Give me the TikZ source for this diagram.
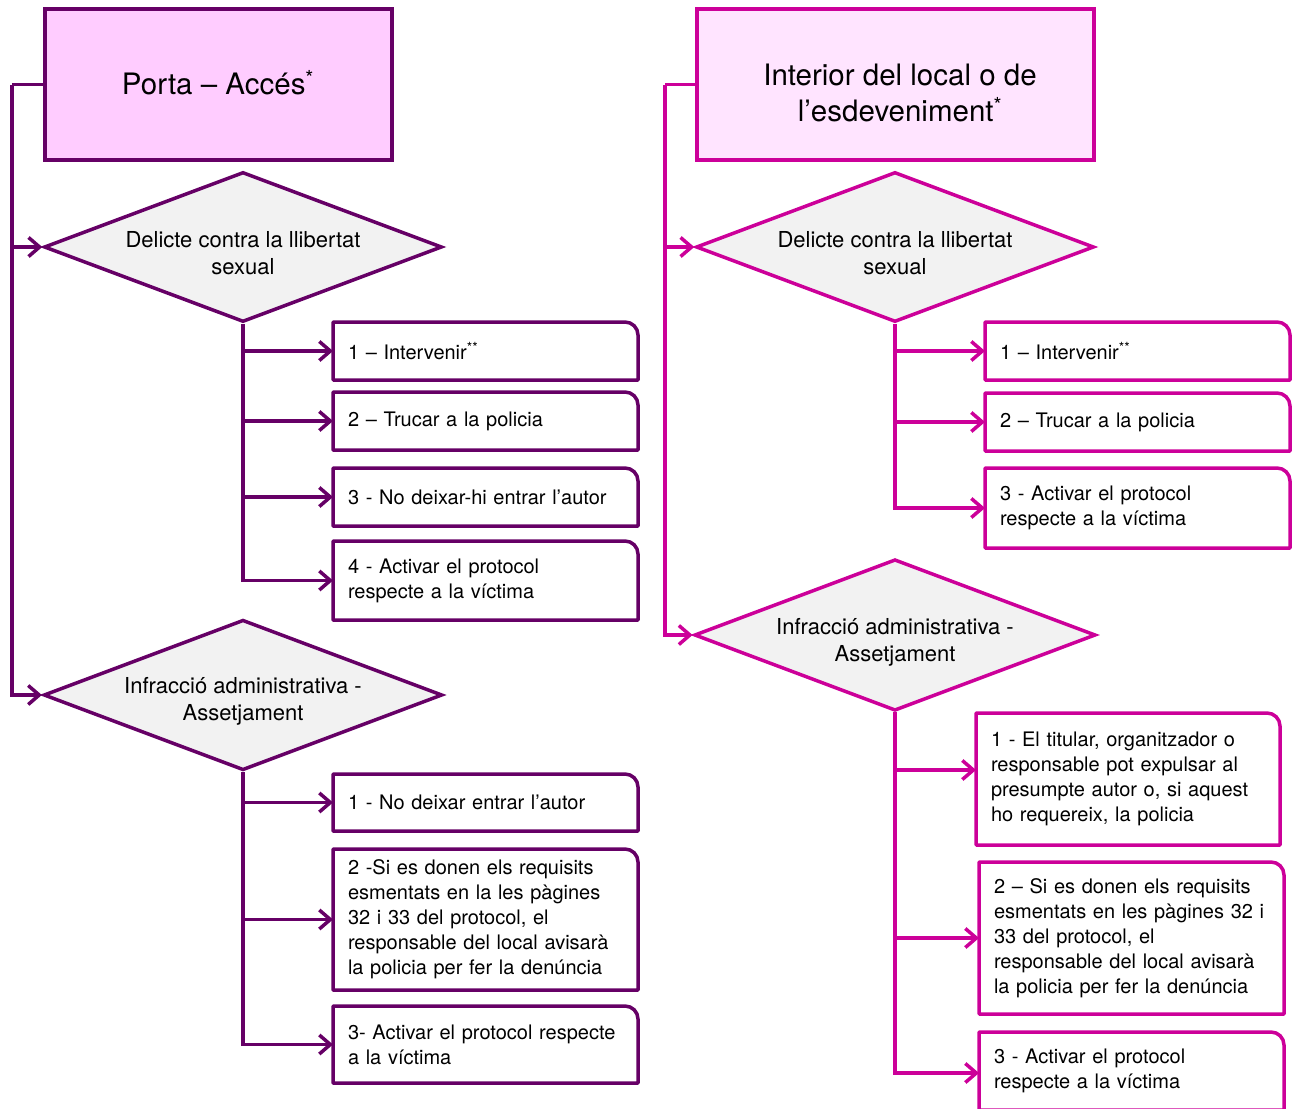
\documentclass[tikz,border=0pt]{standalone}
\usepackage{fontspec}
\setmainfont{TeX Gyre Heros}
\usetikzlibrary{shapes.geometric,arrows.meta}

\definecolor{plum}{HTML}{660066}
\definecolor{magen}{HTML}{CC0099}
\definecolor{pinkL}{HTML}{FFCCFF}
\definecolor{pinkR}{HTML}{FFE4FF}
\definecolor{decgray}{HTML}{F2F2F2}

\newcommand{\stepframe}[2]{%
  \draw[#2, line width=3.5pt, line join=round]
    (#1.south west) -- (#1.north west) -- ([xshift=-13pt]#1.north east)
    arc[start angle=90, end angle=0, radius=13pt] -- (#1.south east) -- cycle;}

\begin{document}
\begin{tikzpicture}[x=1pt, y=1pt,
  hdr/.style={draw=#1, line width=3.5pt, anchor=north west, inner sep=0pt,
    outer sep=0pt, minimum height=151pt},
  hdrtext/.style={align=center, font=\fontsize{29.5}{36}\selectfont},
  dec/.style={diamond, aspect=2.65, draw=#1, fill=decgray, line width=3.5pt,
    minimum width=398pt, minimum height=150pt, inner sep=0pt,
    align=center, font=\fontsize{22}{27}\selectfont},
  stepbox/.style={anchor=north west, inner xsep=15pt, inner ysep=0pt,
    text width=275pt, align=left, outer sep=0pt,
    font=\fontsize{20}{25}\selectfont},
  flow/.style={draw=#1, line width=3.5pt},
  arr/.style={draw=#1, line width=3.5pt, -{Straight Barb[length=11pt, width=19pt]}}]
\useasboundingbox (0,0) rectangle (1292,-1108);

% left column: door / access
\node[hdr=plum, fill=pinkL, minimum width=347pt] (hdrL) at (45,-9) {};
\node[hdrtext] (hdrLt) at (218,-83) {Porta -- Accés\textsuperscript{*}};
\node[dec=plum] (dL1) at (243,-247) {\rule{0pt}{29pt}Delicte contra la llibertat\\sexual};
\node[dec=plum] (dL2) at (243,-695) {\rule{0pt}{29pt}Infracció administrativa -\\Assetjament};
\node[stepbox, minimum height=58pt] (a1) at (333,-322) {1 -- Intervenir\textsuperscript{**}};
\node[stepbox, minimum height=58pt] (a2) at (333,-392) {2 -- Trucar a la policia};
\node[stepbox, minimum height=58pt] (a3) at (333,-468) {3 - No deixar-hi entrar l’autor};
\node[stepbox, minimum height=79pt] (a4) at (333,-541) {4 - Activar el protocol\\respecte a la víctima};
\node[stepbox, minimum height=57pt] (b1) at (333,-774) {1 - No deixar entrar l’autor};
\node[stepbox, minimum height=141pt] (b2) at (333,-849) {2 -Si es donen els requisits\\esmentats en la les pàgines\\32 i 33 del protocol, el\\responsable del local avisarà\\la policia per fer la denúncia};
\node[stepbox, minimum height=77pt] (b3) at (333,-1006) {3- Activar el protocol respecte\\a la víctima};
\stepframe{a1}{plum}
\stepframe{a2}{plum}
\stepframe{a3}{plum}
\stepframe{a4}{plum}
\stepframe{b1}{plum}
\stepframe{b2}{plum}
\stepframe{b3}{plum}

\coordinate (jL) at (12,-84.5);
\draw[flow=plum] (hdrL.west) -- (jL);
\draw[arr=plum] (jL) |- (dL2.west);
\draw[arr=plum] (jL) |- (dL1.west);
\draw[arr=plum] (dL1.south) |- (a4.west);
\draw[arr=plum] (dL1.south |- a1.west) -- (a1.west);
\draw[arr=plum] (dL1.south |- a2.west) -- (a2.west);
\draw[arr=plum] (dL1.south |- a3.west) -- (a3.west);
\draw[arr=plum] (dL2.south) |- (b3.west);
\draw[arr=plum] (dL2.south |- b1.west) -- (b1.west);
\draw[arr=plum] (dL2.south |- b2.west) -- (b2.west);

% right column: inside the venue
\node[hdr=magen, fill=pinkR, minimum width=397pt] (hdrR) at (697,-9) {};
\node[hdrtext] (hdrRt) at (900,-93) {Interior del local o de\\l’esdeveniment\textsuperscript{*}};
\node[dec=magen] (dR1) at (895,-247) {\rule{0pt}{29pt}Delicte contra la llibertat\\sexual};
\node[dec=magen] (dR2) at (895,-635) {\rule{0pt}{30pt}Infracció administrativa -\\Assetjament};
\node[stepbox, minimum height=58pt] (c1) at (985,-322) {1 -- Intervenir\textsuperscript{**}};
\node[stepbox, minimum height=58pt] (c2) at (985,-393) {2 -- Trucar a la policia};
\node[stepbox, minimum height=80pt] (c3) at (985,-468) {3 - Activar el protocol\\respecte a la víctima};
\node[stepbox, minimum height=132pt, text width=274pt] (d1) at (976,-713) {1 - El titular, organitzador o\\responsable pot expulsar al\\presumpte autor o, si aquest\\ho requereix, la policia};
\node[stepbox, minimum height=152pt] (d2) at (979,-862) {2 -- Si es donen els requisits\\esmentats en les pàgines 32 i\\33 del protocol, el\\responsable del local avisarà\\la policia per fer la denúncia};
\node[stepbox, minimum height=78pt] (d3) at (979,-1032) {3 - Activar el protocol\\respecte a la víctima};
\stepframe{c1}{magen}
\stepframe{c2}{magen}
\stepframe{c3}{magen}
\stepframe{d1}{magen}
\stepframe{d2}{magen}
\stepframe{d3}{magen}

\coordinate (jR) at (665,-84.5);
\draw[flow=magen] (hdrR.west) -- (jR);
\draw[arr=magen] (jR) |- (dR2.west);
\draw[arr=magen] (jR) |- (dR1.west);
\draw[arr=magen] (dR1.south) |- (c3.west);
\draw[arr=magen] (dR1.south |- c1.west) -- (c1.west);
\draw[arr=magen] (dR1.south |- c2.west) -- (c2.west);
\draw[arr=magen] (dR2.south) |- ([yshift=-2pt]d3.west);
\draw[arr=magen] (dR2.south |- 0,-770) -- (d1.west |- 0,-770);
\draw[arr=magen] (dR2.south |- d2.west) -- (d2.west);
\end{tikzpicture}
\end{document}
